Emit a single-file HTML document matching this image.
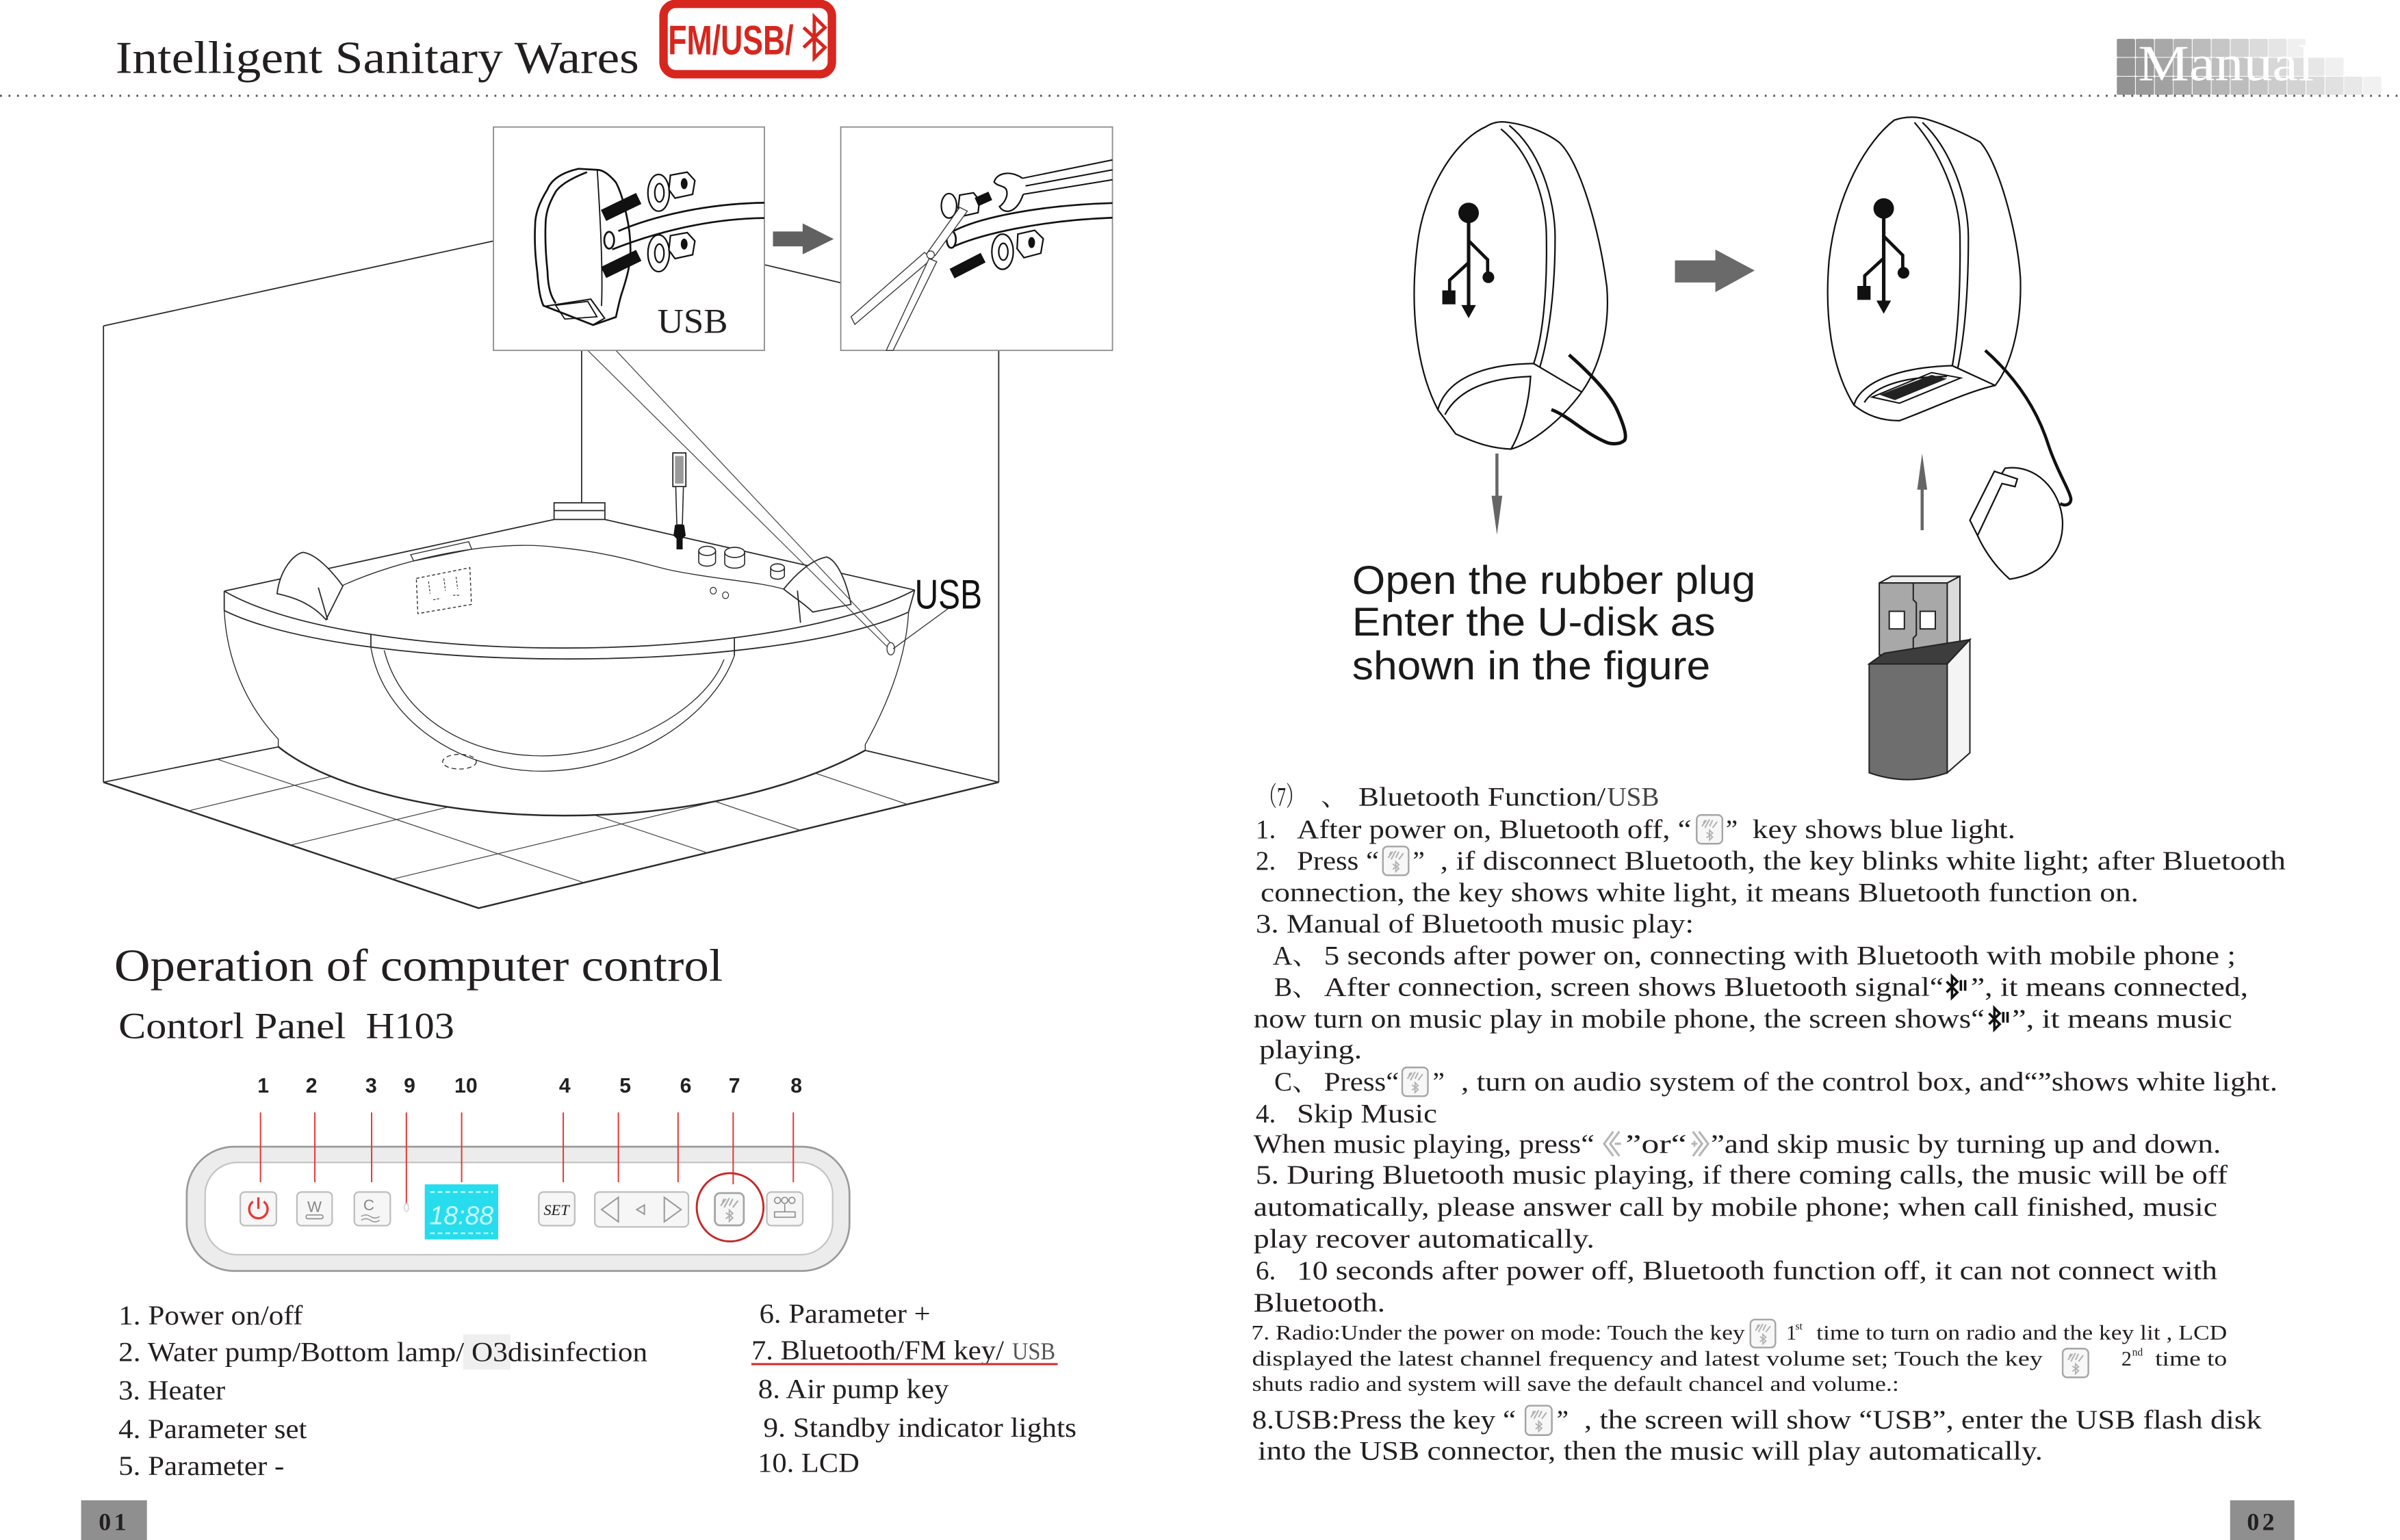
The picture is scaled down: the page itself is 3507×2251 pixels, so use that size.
<!DOCTYPE html>
<html><head><meta charset="utf-8"><style>
html,body{margin:0;padding:0;background:#fff;overflow:hidden}
svg{display:block}
.s{font-family:"Liberation Serif","Noto Serif CJK SC",serif;fill:#231f20}
.a{font-family:"Liberation Sans","Noto Sans CJK SC",sans-serif}
.ln{fill:none;stroke:#2a2a2a;stroke-width:.8}
.th{fill:none;stroke:#444;stroke-width:.55}
</style></head><body>
<svg width="3507" height="2251" viewBox="0 0 1568 1006.43" preserveAspectRatio="none" xmlns="http://www.w3.org/2000/svg">
<defs>
<symbol id="key" viewBox="0 0 18 20"><rect x="0.6" y="0.6" width="16.8" height="18.8" rx="3" fill="#f7f7f7" stroke="#a5a5a5" stroke-width="1.1"/><path d="M4 8 L7 4 M6 9 L9 3.5 M9 8 L11 4 M11 9 L14 5 M5 6 L6 4" stroke="#b0b0b0" stroke-width="0.9" fill="none"/><path d="M7 12 L11 15 L9 17 L9 10.5 L11 12.5 L7 15.5" stroke="#b0b0b0" stroke-width="0.8" fill="none"/></symbol>
<symbol id="bt" viewBox="0 0 16 20"><path d="M2 6 L9 13 L5.5 16.5 L5.5 2.5 L9 6 L2 13" stroke="#111" stroke-width="1.6" fill="none"/><rect x="10.5" y="5" width="1.6" height="7" fill="#111"/><rect x="13.3" y="5" width="1.6" height="7" fill="#111"/></symbol>
<symbol id="lch" viewBox="0 0 16 20"><path d="M8 2 L2 10 L8 18 M12 2 L6 10 L12 18" stroke="#b5b5b5" stroke-width="1.4" fill="none"/><path d="M9 10 L13 10" stroke="#b5b5b5" stroke-width="1.4"/></symbol>
<symbol id="rch" viewBox="0 0 16 20"><path d="M8 2 L14 10 L8 18 M4 2 L10 10 L4 18" stroke="#b5b5b5" stroke-width="1.4" fill="none"/><path d="M3 10 L7 10 M5 8 L5 12" stroke="#b5b5b5" stroke-width="1.2"/></symbol>
<symbol id="usbs" viewBox="0 0 40 90"><circle cx="20" cy="8" r="7" fill="#111"/><path d="M20 12 L20 74" stroke="#111" stroke-width="2.4"/><path d="M15 71 L25 71 L20 80 Z" fill="#111"/><path d="M20 42 L7 54 L7 62" stroke="#111" stroke-width="2.2" fill="none"/><rect x="2" y="61" width="9" height="9.5" fill="#111"/><path d="M20 27 L33 40 L33 50" stroke="#111" stroke-width="2.2" fill="none"/><circle cx="33.5" cy="52" r="4" fill="#111"/></symbol>
</defs>

<!-- HEADER -->
<text class="s" x="75.5" y="47.6" font-size="30" textLength="342" lengthAdjust="spacingAndGlyphs">Intelligent Sanitary Wares</text>
<rect x="433.5" y="2.5" width="110" height="46" rx="8" fill="#fff" stroke="#d7261e" stroke-width="5.5"/>
<text class="a" x="436.5" y="35.6" font-size="27" font-weight="bold" fill="#d7261e" textLength="82" lengthAdjust="spacingAndGlyphs">FM/USB/</text>
<path d="M525,18 L539,31 L532,38 L532,11 L539,18 L525,31" stroke="#d7261e" stroke-width="2.2" fill="none"/>
<line x1="0" y1="62.6" x2="1568" y2="62.6" stroke="#555" stroke-width="1.3" stroke-dasharray="1.2 4.37"/>

<!-- Manual badge -->
<g>
<rect x="1383" y="25.4" width="11.9" height="11.9" rx=".8" fill="#939393"/><rect x="1395.4" y="25.4" width="11.9" height="11.9" rx=".8" fill="#9d9d9d"/><rect x="1407.8" y="25.4" width="11.9" height="11.9" rx=".8" fill="#a8a8a8"/><rect x="1420.1" y="25.4" width="11.9" height="11.9" rx=".8" fill="#b2b2b2"/><rect x="1432.5" y="25.4" width="11.9" height="11.9" rx=".8" fill="#bcbcbc"/><rect x="1444.9" y="25.4" width="11.9" height="11.9" rx=".8" fill="#c6c6c6"/><rect x="1457.3" y="25.4" width="11.9" height="11.9" rx=".8" fill="#d1d1d1"/><rect x="1469.7" y="25.4" width="11.9" height="11.9" rx=".8" fill="#dbdbdb"/><rect x="1482" y="25.4" width="11.9" height="11.9" rx=".8" fill="#e5e5e5"/><rect x="1494.4" y="25.4" width="11.9" height="11.9" rx=".8" fill="#f0f0f0"/>
<rect x="1383" y="37.75" width="11.9" height="11.9" rx=".8" fill="#939393"/><rect x="1395.4" y="37.75" width="11.9" height="11.9" rx=".8" fill="#9b9b9b"/><rect x="1407.8" y="37.75" width="11.9" height="11.9" rx=".8" fill="#a4a4a4"/><rect x="1420.1" y="37.75" width="11.9" height="11.9" rx=".8" fill="#acacac"/><rect x="1432.5" y="37.75" width="11.9" height="11.9" rx=".8" fill="#b5b5b5"/><rect x="1444.9" y="37.75" width="11.9" height="11.9" rx=".8" fill="#bdbdbd"/><rect x="1457.3" y="37.75" width="11.9" height="11.9" rx=".8" fill="#c6c6c6"/><rect x="1469.7" y="37.75" width="11.9" height="11.9" rx=".8" fill="#cecece"/><rect x="1482" y="37.75" width="11.9" height="11.9" rx=".8" fill="#d7d7d7"/><rect x="1494.4" y="37.75" width="11.9" height="11.9" rx=".8" fill="#dfdfdf"/><rect x="1506.8" y="37.75" width="11.9" height="11.9" rx=".8" fill="#e7e7e7"/><rect x="1519.2" y="37.75" width="11.9" height="11.9" rx=".8" fill="#f0f0f0"/>
<rect x="1383" y="50.1" width="11.9" height="11.9" rx=".8" fill="#939393"/><rect x="1395.4" y="50.1" width="11.9" height="11.9" rx=".8" fill="#9a9a9a"/><rect x="1407.8" y="50.1" width="11.9" height="11.9" rx=".8" fill="#a1a1a1"/><rect x="1420.1" y="50.1" width="11.9" height="11.9" rx=".8" fill="#a8a8a8"/><rect x="1432.5" y="50.1" width="11.9" height="11.9" rx=".8" fill="#afafaf"/><rect x="1444.9" y="50.1" width="11.9" height="11.9" rx=".8" fill="#b6b6b6"/><rect x="1457.3" y="50.1" width="11.9" height="11.9" rx=".8" fill="#bdbdbd"/><rect x="1469.7" y="50.1" width="11.9" height="11.9" rx=".8" fill="#c5c5c5"/><rect x="1482" y="50.1" width="11.9" height="11.9" rx=".8" fill="#cccccc"/><rect x="1494.4" y="50.1" width="11.9" height="11.9" rx=".8" fill="#d3d3d3"/><rect x="1506.8" y="50.1" width="11.9" height="11.9" rx=".8" fill="#dadada"/><rect x="1519.2" y="50.1" width="11.9" height="11.9" rx=".8" fill="#e1e1e1"/><rect x="1531.5" y="50.1" width="11.9" height="11.9" rx=".8" fill="#e8e8e8"/><rect x="1543.9" y="50.1" width="11.9" height="11.9" rx=".8" fill="#f1f1f1"/>
<text x="1396.8" y="52.5" font-family="Liberation Serif,serif" font-size="33" fill="#fff" textLength="115" lengthAdjust="spacingAndGlyphs">Manual</text>
</g>

<!-- ROOM -->
<g class="ln">
<path d="M67.6,213 L322.4,157.5"/>
<path d="M67.6,213 L67.6,511.2"/>
<path d="M499.4,173 L549.3,184.8"/>
<path d="M652.5,229 L652.5,511.2"/>
<path d="M380,229 L380,328.6"/>
<path d="M67.6,511.2 L181.8,488.1"/>
<path d="M652.5,511.2 L565.3,490.4"/>
<path d="M67.6,511.2 L312.7,593.5 L652.5,511.2" stroke-width="1.1"/>
</g>
<g class="th">
<path d="M142.3,496.3 L381.3,576.8"/><path d="M362,523.8 L462.3,557.4"/><path d="M440,514.5 L522.5,542.5"/><path d="M515,499.3 L593.2,525.8"/>
<path d="M123.6,529.8 L235,503"/><path d="M190.1,552.2 L310,523.3"/><path d="M256.6,574.5 L470,523.1"/>
</g>

<!-- TUB -->
<path d="M146.5,386.3 L362,339.5 L395.2,339.5 L597.6,385.6 L593.6,400 C592,430 580,460 565.3,486.6 L565.3,490.4 C520,515 450,533 368,533 C290,533 215,515 181.8,488 L181.8,483 C160,460 148,430 146.5,399 Z" fill="#fff" stroke="none"/>
<g class="ln">
<path d="M146.5,386.3 L362,339.5"/><path d="M395.2,339.5 L597.6,385.6"/>
<path d="M146.5,386.3 C230,435 500,437 597.6,385.6"/>
<path d="M146.5,399 C230,440 500,442 593.6,400"/>
<path d="M146.5,386.3 L146.5,399"/><path d="M597.6,385.6 L593.6,400"/>
<path d="M146.5,399 C148,430 160,460 181.8,483 L181.8,488" stroke-width=".6"/>
<path d="M593.6,400 C592,430 580,460 565.3,486.6 L565.3,490.4" stroke-width=".6"/>
<path d="M181.8,488 C215,515 290,533 368,533 C450,533 520,515 565.3,490.4" stroke-width="1.1"/>
<path d="M242.3,414.6 L242.3,423"/><path d="M479.8,417 L479.8,428.5"/>
<path d="M242.3,423 C250,470 300,504 354,504 C410,504 465,470 479.8,428.5" stroke-width=".6"/>
<path d="M251,425 C262,468 305,494 354,494 C405,494 460,465 473,431" stroke-width=".6"/>
<path d="M223,383 C260,366 320,352 364,357.7 C400,361 425,370 440,373 C470,379 495,380 512,385" stroke-width=".6"/>
<rect x="362" y="328.6" width="33.2" height="10.9" fill="#fff"/><path d="M362,333.7 L395.2,333.7"/>
<path d="M181,388 C183,372 192,362 198,361 C206,362 216,372 224,383 L213,405 C205,396 195,391 181,388 Z" fill="#fff"/>
<path d="M208,384 L214,405"/>
<path d="M512,385 C520,375 530,366 540,364 C547,366 553,380 556,395 L531,400 C525,394 518,390 512,385 Z" fill="#fff"/>
<path d="M521,386 L523,407"/>
<path d="M268.3,362.5 L306.2,354 L308.2,358.9 L270.3,366.6 Z" stroke-width=".6"/>
<path d="M272,378 L307,371 L308,395 L273,401 Z" stroke-dasharray="2 1.5" stroke-width=".6"/>
<path d="M280,380 L281,388 M290,378 L291,386 M298,377 L299,385 M283,392 L288,391 M296,389 L300,389" stroke-width=".5" stroke-dasharray="1.5 1"/>
<ellipse cx="300.2" cy="497.8" rx="11" ry="4.8" stroke-dasharray="3 2" stroke-width=".6"/>
</g>
<!-- hand shower & knobs -->
<rect x="439.6" y="296" width="8.5" height="22" fill="#fff" stroke="#222" stroke-width=".8"/>
<rect x="441" y="298" width="5.6" height="18" fill="#9a9a9a"/>
<path d="M441.5,318 L446.5,318 L445.8,343 L442.2,343 Z" fill="#fff" stroke="#222" stroke-width=".7"/>
<path d="M441,343 L447,343 L448,350 L446,352 L446,359 L442,359 L442,352 L440,350 Z" fill="#111"/>
<g stroke="#222" stroke-width=".7" fill="#fff">
<path d="M456.5,360 L456.5,367 A5.5,3 0 0 0 467.5,367 L467.5,360"/><ellipse cx="462" cy="360" rx="5.5" ry="3"/>
<path d="M473.5,361 L473.5,368 A6.5,3.3 0 0 0 486.5,368 L486.5,361"/><ellipse cx="480" cy="361" rx="6.5" ry="3.3"/>
<path d="M503.5,371 L503.5,376 A4.5,2.5 0 0 0 512.5,376 L512.5,371"/><ellipse cx="508" cy="371" rx="4.5" ry="2.5"/>
<ellipse cx="466" cy="386" rx="2" ry="2.2" stroke-width=".5"/><ellipse cx="474" cy="389" rx="2" ry="2.2" stroke-width=".5"/>
</g>

<!-- leaders -->
<path d="M384,229 L581,424 M402.4,229 L583.5,422" stroke="#444" stroke-width=".55" fill="none"/>
<ellipse cx="582" cy="424" rx="2.5" ry="4" fill="#fff" stroke="#333" stroke-width=".6"/>
<path d="M619.5,397.7 L583.5,424" stroke="#333" stroke-width=".6"/>
<text class="a" x="597.6" y="397.7" font-size="27" fill="#111" textLength="44" lengthAdjust="spacingAndGlyphs">USB</text>

<!-- BOX 1 -->
<rect x="322.4" y="83" width="177" height="146" fill="#fff" stroke="#8a8a8a" stroke-width=".8"/>
<g stroke="#111" fill="none" stroke-width="1.2">
<path d="M378,110.3 C366,113 360,118 357.7,123.7 C352,133 349.6,140 349.6,147.6 C349,160 350,170 351,177.4 C352,190 353,195 355,199.7 L387.5,212.4 L402.4,207.2 C404,200 405,195 406.5,190.8 C410,180 412,172 411.9,164 C412,155 411,148 409.2,140.1 C407,130 405,124 402.4,119.2 C398,114 394,111 390.2,111 Z" fill="#fff"/>
<path d="M383.5,112.5 C372,117 366,121 363.1,125.2 C358,134 356.4,140 356.4,147.6 C356,160 357,170 357.7,177.4 C358,188 360,194 363.1,198.2"/>
<path d="M390.2,111 C392,140 394,175 393,200" stroke-width=".8"/>
<path d="M357,200 L386,195.5 L395,208 L388,212" stroke-width=".9"/>
<path d="M363,199.5 L384,197 L390,207 L369,208.5 Z" stroke-width=".8"/>
<path d="M404,151 C425,142 460,133 499.4,132.5"/><path d="M400,163 C428,152 462,143 499.4,142.5"/>
<ellipse cx="398" cy="157" rx="3.2" ry="5.5" fill="#fff"/>
</g>
<path d="M394.3,140.8 L417.3,129.7" stroke="#111" stroke-width="8"/>
<path d="M394.3,178.1 L417.3,166.9" stroke="#111" stroke-width="8"/>
<g stroke="#111" stroke-width="1" fill="#fff">
<ellipse cx="430.3" cy="126" rx="7" ry="12"/><ellipse cx="430.8" cy="126" rx="3" ry="6"/>
<ellipse cx="430.3" cy="165.5" rx="7" ry="12"/><ellipse cx="430.8" cy="165.5" rx="3" ry="6"/>
<path d="M438,114.5 L449,112.5 L454,118 L452.5,127 L441,129.5 L437,124 Z"/>
<path d="M438,154 L449,152 L454,157.5 L452.5,166.5 L441,169 L437,163.5 Z"/>
</g>
<ellipse cx="447" cy="120" rx="2.2" ry="3.6" fill="#111"/><ellipse cx="447" cy="159.5" rx="2.2" ry="3.6" fill="#111"/>
<text class="s" x="429.5" y="217.6" font-size="22.5" textLength="46" lengthAdjust="spacingAndGlyphs">USB</text>

<!-- arrow between boxes -->
<path d="M505,151.3 L524.4,151.3 L524.4,146 L544.7,156.2 L524.4,166.2 L524.4,161 L505,161 Z" fill="#616161"/>

<!-- BOX 2 -->
<rect x="549.3" y="83" width="177.5" height="146" fill="#fff" stroke="#8a8a8a" stroke-width=".8"/>
<g stroke="#111" fill="none" stroke-width="1.2">
<path d="M623,151 C640,142 680,134 726.8,132.7"/><path d="M621,162 C640,153 680,144 726.8,142.3"/>
<ellipse cx="621.5" cy="156.5" rx="3" ry="5.5" fill="#fff"/>
<path d="M726.8,104.5 L668,116.5 M726.8,111 L670,121.5 M726.8,117.5 L668.5,127" stroke-width=".9"/>
<path d="M668,116.5 C660,111 651,113 649.5,119 C652,122 656,121 657.5,124 C659,128 656,133 653,135 C656,140 664,140 668.5,127" fill="#fff" stroke-width="1"/>
</g>
<g stroke="#111" stroke-width="1" fill="#fff">
<ellipse cx="620" cy="134.5" rx="5" ry="8"/>
<path d="M627,127.5 L636,126 L640,131 L639,139 L630,141 L626,136 Z"/>
<ellipse cx="655" cy="164.5" rx="7" ry="11.5"/><ellipse cx="655.5" cy="164.5" rx="3" ry="5.5"/>
<path d="M665,153 L676,150.5 L681.6,156 L680,165.5 L669,168.4 L664.5,162.5 Z"/>
</g>
<path d="M638,132 L647,128" stroke="#111" stroke-width="6"/>
<ellipse cx="674" cy="158.5" rx="2.2" ry="3.6" fill="#111"/>
<path d="M622,178.8 L642.3,168.4" stroke="#111" stroke-width="7"/>
<g stroke="#333" stroke-width=".6" fill="#fff">
<path d="M604,165 L556,207 L558.5,212 L609,169 Z"/>
<path d="M607,169 L579,229 L583.5,229 L612,171 Z"/>
<path d="M606,165 L627,135.5 L632,138 L611,167 Z"/>
<circle cx="608" cy="166.5" r="2.5"/>
</g>

<!-- RIGHT FIGURES: left device -->
<g stroke="#111" stroke-width="1" fill="none">
<path d="M970.8,82.8 C950,92 930,125 926,160 C921,200 925,240 939.4,267.7 L951,283.5 C965,290 975,293 987.2,293.5 C1000,290 1020,275 1033.4,256.2 C1045,240 1052,215 1049.8,187.4 C1045,150 1032,105 1018.5,92.9 C1012,88 1000,82 985.6,80 C980,79 975,80 970.8,82.8 Z" fill="#fff"/>
<path d="M980.6,84.3 C1000,100 1010,130 1010.3,153 C1011,190 1008,220 1002,237.6"/>
<path d="M986,82 C1006,98 1016,130 1016,155 C1016,190 1012,220 1006,240"/>
<path d="M939.4,267.7 C945,248 968,238 1002,237.6 L1033.4,256.2"/>
<path d="M944,271 C952,256 970,247 1000,246 C999,262 995,280 987.2,293.5"/>
</g>
<use href="#usbs" x="939.5" y="131.5" width="40" height="86"/>
<path d="M1025.1,231.9 C1040,245 1052,258 1056.4,267.7 C1061,278 1063,285 1061.4,287.7 C1058,291 1052,290 1049.8,289.2 C1035,283 1025,272 1013.6,267.7" stroke="#111" stroke-width="2.2" fill="none"/>
<path d="M978,296.4 L978,326" stroke="#666" stroke-width="2"/>
<path d="M974.5,324 L981.5,324 L978,349.4 Z" fill="#666"/>
<path d="M1094.3,170.2 L1120.7,170.2 L1120.7,163.1 L1146.4,176.8 L1120.7,190.9 L1120.7,184.6 L1094.3,184.6 Z" fill="#6a6a6a"/>

<!-- right device -->
<g stroke="#111" stroke-width="1" fill="none">
<path d="M1237.6,78.5 C1220,92 1200,125 1195,170 C1192,205 1196,240 1211.3,264.8 C1220,272 1230,275 1241,274.9 C1260,268 1285,256 1303.5,251.9 C1313,240 1321,215 1320,181.7 C1318,150 1305,105 1293.7,92.9 C1285,88 1272,82 1260.7,78.5 C1253,76 1245,76 1237.6,78.5 Z" fill="#fff"/>
<path d="M1250.8,80 C1268,100 1280,130 1280.5,153 C1281,190 1279,220 1275.5,239"/>
<path d="M1256,80 C1275,98 1286,130 1286,155 C1286,195 1283,222 1279,241"/>
<path d="M1211.3,264.8 C1215,250 1240,240 1275.5,239 L1303.5,251.9"/>
<path d="M1218,263 C1225,252 1245,246 1272,246"/>
<path d="M1223,259.5 L1262,243.5 L1281,247 L1241,263.5 Z" stroke-width=".9"/>
</g>
<path d="M1228,258 L1262,245 L1272,247.5 L1238,261.5 Z" fill="#222"/>
<use href="#usbs" x="1210.7" y="128.6" width="40" height="86"/>
<path d="M1297,229 C1315,245 1330,265 1338,290 C1344,308 1352,320 1353,326 C1353,330 1349,331 1346,329" stroke="#111" stroke-width="2" fill="none"/>
<g stroke="#111" stroke-width="1" fill="#fff">
<path d="M1310,306 C1330,303 1346,320 1347.5,340 C1348.5,360 1336,375 1313,378.5 C1301,368 1291,352 1289,340 Z"/>
<path d="M1287,340 L1303,308 L1318,313 L1316.5,318 L1308,316 L1292,350 Z"/>
</g>
<path d="M1255.8,346.5 L1255.8,318" stroke="#666" stroke-width="2"/>
<path d="M1252.6,320 L1259.1,320 L1255.8,296.4 Z" fill="#666"/>
<!-- USB stick -->
<g stroke="#222" stroke-width=".9">
<path d="M1227.8,381 L1236,376.6 L1280.5,376.6 L1272.2,381 Z" fill="#efefef"/>
<rect x="1227.8" y="381" width="44.4" height="47" fill="#a8a8a8"/>
<path d="M1272.2,381 L1280.5,376.6 L1280.5,422 L1272.2,428 Z" fill="#dcdcdc"/>
<path d="M1250,381 L1250,392 L1252,394 L1252,415 L1250,417 L1250,428" fill="none"/>
<rect x="1234.3" y="399.5" width="9.9" height="11.5" fill="#fff"/>
<rect x="1254.5" y="399.5" width="9.9" height="11.5" fill="#fff"/>
<path d="M1221.2,433.9 L1231,426.9 L1287,418 L1272.2,433.9 Z" fill="#3d3d3d"/>
<path d="M1221.2,433.9 L1272.2,433.9 L1272.2,505 Q1246.7,514 1221.2,505 Z" fill="#6e6e6e"/>
<path d="M1272.2,433.9 L1287,418 L1287,492 L1272.2,505 Z" fill="#f4f4f4"/>
</g>

<text class="a" x="883.4" y="388" font-size="26" fill="#1a1a1a" textLength="263.6" lengthAdjust="spacingAndGlyphs">Open the rubber plug</text>
<text class="a" x="883.4" y="415.3" font-size="26" fill="#1a1a1a" textLength="237.3" lengthAdjust="spacingAndGlyphs">Enter the U-disk as</text>
<text class="a" x="883.4" y="443.9" font-size="26" fill="#1a1a1a" textLength="234" lengthAdjust="spacingAndGlyphs">shown in the figure</text>

<!-- LEFT BOTTOM -->
<text class="s" x="74.6" y="641" font-size="30" textLength="397.6" lengthAdjust="spacingAndGlyphs">Operation of computer control</text>
<text class="s" x="77.4" y="678.4" font-size="24" textLength="148.6" lengthAdjust="spacingAndGlyphs">Contorl Panel</text>
<text class="s" x="239" y="678.4" font-size="24" textLength="57.8" lengthAdjust="spacingAndGlyphs">H103</text>

<!-- control panel -->
<g class="a" font-size="13.5" font-weight="bold" fill="#222" text-anchor="middle">
<text x="172" y="714">1</text><text x="203.5" y="714">2</text><text x="242.5" y="714">3</text><text x="267.6" y="714">9</text><text x="304.4" y="714">10</text><text x="369" y="714">4</text><text x="408.5" y="714">5</text><text x="448" y="714">6</text><text x="479.8" y="714">7</text><text x="520.3" y="714">8</text>
</g>
<rect x="122" y="749.4" width="433" height="81.2" rx="31" fill="#ececec" stroke="#9a9a9a" stroke-width="1.2"/>
<rect x="134" y="759.7" width="410" height="60.3" rx="21" fill="#fff" stroke="#c4c4c4" stroke-width="1"/>
<g stroke="#e53935" stroke-width=".9">
<path d="M170.2,727 L170.2,772.6 M205.7,727 L205.7,772.6 M242.8,727 L242.8,772.6 M265.5,727 L265.5,786.8 M301.6,727 L301.6,772.6 M368,727 L368,772.6 M404,727 L404,772.6 M443,727 L443,772.6 M479,727 L479,774 M518.3,727 L518.3,772.6"/>
</g>
<g stroke="#bdbdbd" stroke-width="1" fill="#f6f6f6">
<rect x="157" y="779" width="23.6" height="22" rx="3"/>
<rect x="194" y="779" width="23" height="22" rx="3"/>
<rect x="231.5" y="779" width="23.5" height="22" rx="3"/>
<rect x="352" y="779" width="23.5" height="22" rx="3"/>
<rect x="388.6" y="779" width="61.2" height="22.8" rx="3"/>
<rect x="501" y="779" width="23.5" height="22" rx="3"/>
</g>
<path d="M165.3,785.3 A6,6 0 1 0 172.3,785.3" stroke="#e53935" stroke-width="1.5" fill="none"/>
<path d="M168.8,782.5 L168.8,790" stroke="#e53935" stroke-width="1.5"/>
<text x="205.5" y="792" class="a" font-size="10" fill="#888" text-anchor="middle">W</text>
<rect x="200" y="794" width="11" height="2.5" rx="1" fill="none" stroke="#888" stroke-width=".7"/>
<text x="241" y="791" class="a" font-size="10" fill="#888" text-anchor="middle">C</text>
<path d="M236,795 q3,-2 6,0 t6,0 M236,797.5 q3,-2 6,0 t6,0" stroke="#999" stroke-width=".7" fill="none"/>
<ellipse cx="265.5" cy="789" rx="1.4" ry="2.8" fill="none" stroke="#ccc" stroke-width=".6"/>
<rect x="277.5" y="774" width="48" height="36" fill="#27dced"/>
<text x="301.5" y="800" class="a" font-size="17" font-style="italic" fill="#c8fbff" text-anchor="middle" textLength="42" lengthAdjust="spacingAndGlyphs">18:88</text>
<path d="M281,779 L322,779 M281,806 L322,806" stroke="#bff6fb" stroke-width="1.2" stroke-dasharray="3 2"/>
<text x="363.5" y="794" class="s" font-size="10" font-style="italic" fill="#888" text-anchor="middle">SET</text>
<path d="M404,782.5 L393,790.5 L404,798.5 Z M434,782.5 L445,790.5 L434,798.5 Z M421,787.5 L416,790.5 L421,793.5 Z" fill="none" stroke="#999" stroke-width=".9"/>
<use href="#key" x="464" y="779" width="25" height="22.5"/>
<ellipse cx="477" cy="789" rx="21.8" ry="22.3" fill="none" stroke="#c62828" stroke-width="1.3"/>
<g fill="none" stroke="#888" stroke-width=".7"><circle cx="508" cy="784.5" r="2"/><circle cx="512.7" cy="784.5" r="2"/><circle cx="517.4" cy="784.5" r="2"/><path d="M512.7,787 L512.7,792 M506,792 L519.5,792 L519.5,795.5 L506,795.5 Z"/></g>

<!-- list -->
<rect x="302.6" y="872" width="31" height="23" fill="#efefef"/>
<g class="s" font-size="18">
<text x="77.4" y="865.5" textLength="120.4" lengthAdjust="spacingAndGlyphs">1. Power on/off</text>
<text x="77.4" y="889.5" textLength="345.6" lengthAdjust="spacingAndGlyphs">2. Water pump/Bottom lamp/ O3disinfection</text>
<text x="77.4" y="914.5" textLength="69.8" lengthAdjust="spacingAndGlyphs">3. Heater</text>
<text x="77.4" y="939.8" textLength="123.1" lengthAdjust="spacingAndGlyphs">4. Parameter set</text>
<text x="77.4" y="964" textLength="108.3" lengthAdjust="spacingAndGlyphs">5. Parameter -</text>
<text x="496.1" y="864.4" textLength="111.8" lengthAdjust="spacingAndGlyphs">6. Parameter +</text>
<text x="490.9" y="888.5" textLength="165" lengthAdjust="spacingAndGlyphs">7. Bluetooth/FM key/</text>
<text x="661.2" y="888.5" font-size="16" fill="#555" textLength="28.3" lengthAdjust="spacingAndGlyphs">USB</text>
<text x="495.3" y="913.6" textLength="124.6" lengthAdjust="spacingAndGlyphs">8. Air pump key</text>
<text x="498.7" y="939" textLength="204.6" lengthAdjust="spacingAndGlyphs">9. Standby indicator lights</text>
<text x="495" y="962" textLength="66.5" lengthAdjust="spacingAndGlyphs">10. LCD</text>
</g>
<path d="M490.9,891.5 L691,891.5" stroke="#d32f2f" stroke-width="1.4"/>

<!-- page numbers -->
<rect x="53" y="980.5" width="43" height="26" fill="#8f8f8f"/>
<text x="74.5" y="1000" class="s" font-size="16" font-weight="bold" fill="#fff" text-anchor="middle" letter-spacing="2">01</text>
<rect x="1457" y="980.5" width="42" height="26" fill="#8f8f8f"/>
<text x="1478" y="1000" class="s" font-size="16" font-weight="bold" fill="#fff" text-anchor="middle" letter-spacing="2">02</text>

<!-- RIGHT TEXT -->
<g class="s" font-size="17.5">
<text x="822.7" y="526.5" textLength="29" lengthAdjust="spacingAndGlyphs">（7）</text>
<text x="863" y="526.5">、</text>
<text x="887.5" y="526.5" textLength="161.5" lengthAdjust="spacingAndGlyphs">Bluetooth Function/</text>
<text x="1050" y="526.5" fill="#444" textLength="34" lengthAdjust="spacingAndGlyphs">USB</text>

<text x="820.4" y="547.6">1.</text>
<text x="847.3" y="547.6" textLength="257.7" lengthAdjust="spacingAndGlyphs">After power on, Bluetooth off, “</text>
<text x="1127.5" y="547.6">”</text>
<text x="1145" y="547.6" textLength="171.7" lengthAdjust="spacingAndGlyphs">key shows blue light.</text>

<text x="820.4" y="568.2">2.</text>
<text x="847.3" y="568.2" textLength="53.6" lengthAdjust="spacingAndGlyphs">Press “</text>
<text x="923" y="568.2">”</text>
<text x="941" y="568.2" textLength="552.3" lengthAdjust="spacingAndGlyphs">, if disconnect Bluetooth, the key blinks white light; after Bluetooth</text>

<text x="823.6" y="589" textLength="573.6" lengthAdjust="spacingAndGlyphs">connection, the key shows white light, it means Bluetooth function on.</text>
<text x="820.4" y="609.4" textLength="286.2" lengthAdjust="spacingAndGlyphs">3. Manual of Bluetooth music play:</text>

<text x="831.6" y="630.2">A、</text>
<text x="865" y="630.2" textLength="595.7" lengthAdjust="spacingAndGlyphs">5 seconds after power on, connecting with Bluetooth with mobile phone ;</text>

<text x="832.5" y="650.8">B、</text>
<text x="865" y="650.8" textLength="404.8" lengthAdjust="spacingAndGlyphs">After connection, screen shows Bluetooth signal“</text>
<text x="1287.6" y="650.8" textLength="181.2" lengthAdjust="spacingAndGlyphs">”, it means connected,</text>

<text x="819" y="671.6" textLength="477.6" lengthAdjust="spacingAndGlyphs">now turn on music play in mobile phone, the screen shows“</text>
<text x="1314.5" y="671.6" textLength="143.9" lengthAdjust="spacingAndGlyphs">”, it means music</text>

<text x="822.7" y="691.7" textLength="67.1" lengthAdjust="spacingAndGlyphs">playing.</text>

<text x="832.5" y="712.6">C、</text>
<text x="865" y="712.6" textLength="49" lengthAdjust="spacingAndGlyphs">Press“</text>
<text x="936" y="712.6">”</text>
<text x="954.6" y="712.6" textLength="533.4" lengthAdjust="spacingAndGlyphs">, turn on audio system of the control box, and“”shows white light.</text>

<text x="820.4" y="733.4">4.</text>
<text x="847.3" y="733.4" textLength="91.6" lengthAdjust="spacingAndGlyphs">Skip Music</text>

<text x="819" y="753.4" textLength="222.7" lengthAdjust="spacingAndGlyphs">When music playing, press“</text>
<text x="1062" y="753.4" textLength="40" lengthAdjust="spacingAndGlyphs">”or“</text>
<text x="1117.7" y="753.4" textLength="333.3" lengthAdjust="spacingAndGlyphs">”and skip music by turning up and down.</text>

<text x="820.4" y="773.5" textLength="635" lengthAdjust="spacingAndGlyphs">5. During Bluetooth music playing, if there coming calls, the music will be off</text>
<text x="819" y="794.4" textLength="629.6" lengthAdjust="spacingAndGlyphs">automatically, please answer call by mobile phone; when call finished, music</text>
<text x="819" y="815.2" textLength="222.7" lengthAdjust="spacingAndGlyphs">play recover automatically.</text>
<text x="820.4" y="836">6.</text>
<text x="847.3" y="836" textLength="601.3" lengthAdjust="spacingAndGlyphs">10 seconds after power off, Bluetooth function off, it can not connect with</text>
<text x="819" y="857" textLength="86" lengthAdjust="spacingAndGlyphs">Bluetooth.</text>

<text x="818" y="933.6" textLength="172.4" lengthAdjust="spacingAndGlyphs">8.USB:Press the key “</text>
<text x="1017" y="933.6">”</text>
<text x="1035" y="933.6" textLength="442.6" lengthAdjust="spacingAndGlyphs">, the screen will show “USB”, enter the USB flash disk</text>
<text x="821.8" y="953.8" textLength="512.8" lengthAdjust="spacingAndGlyphs">into the USB connector, then the music will play automatically.</text>
</g>
<g class="s" font-size="13.5">
<text x="817.5" y="875.5" textLength="322.5" lengthAdjust="spacingAndGlyphs">7. Radio:Under the power on mode: Touch the key</text>
<text x="1167" y="875.5">1</text><text x="1173" y="869" font-size="7">st</text>
<text x="1186.7" y="875.5" textLength="268.3" lengthAdjust="spacingAndGlyphs">time to turn on radio and the key lit , LCD</text>
<text x="818" y="892.5" textLength="516.6" lengthAdjust="spacingAndGlyphs">displayed the latest channel frequency and latest volume set; Touch the key</text>
<text x="1386" y="892.5">2</text><text x="1393" y="886" font-size="7">nd</text>
<text x="1408" y="892.5" textLength="47" lengthAdjust="spacingAndGlyphs">time to</text>
<text x="818" y="909" textLength="422.7" lengthAdjust="spacingAndGlyphs">shuts radio and system will save the default chancel and volume.:</text>
</g>
<use href="#key" x="1107.9" y="532" width="18" height="20"/>
<use href="#key" x="902.9" y="552.6" width="18" height="20"/>
<use href="#key" x="915.5" y="697" width="18" height="20"/>
<use href="#key" x="996" y="918" width="18.5" height="20.5"/>
<use href="#key" x="1143" y="861.5" width="17.5" height="20"/>
<use href="#key" x="1347" y="880.5" width="18" height="20.5"/>
<use href="#bt" x="1269.8" y="635.5" width="16" height="20"/>
<use href="#bt" x="1297.5" y="656.3" width="16" height="20"/>
<use href="#lch" x="1046" y="737.5" width="16" height="20"/>
<use href="#rch" x="1102" y="737.5" width="16" height="20"/>
</svg>
</body></html>
